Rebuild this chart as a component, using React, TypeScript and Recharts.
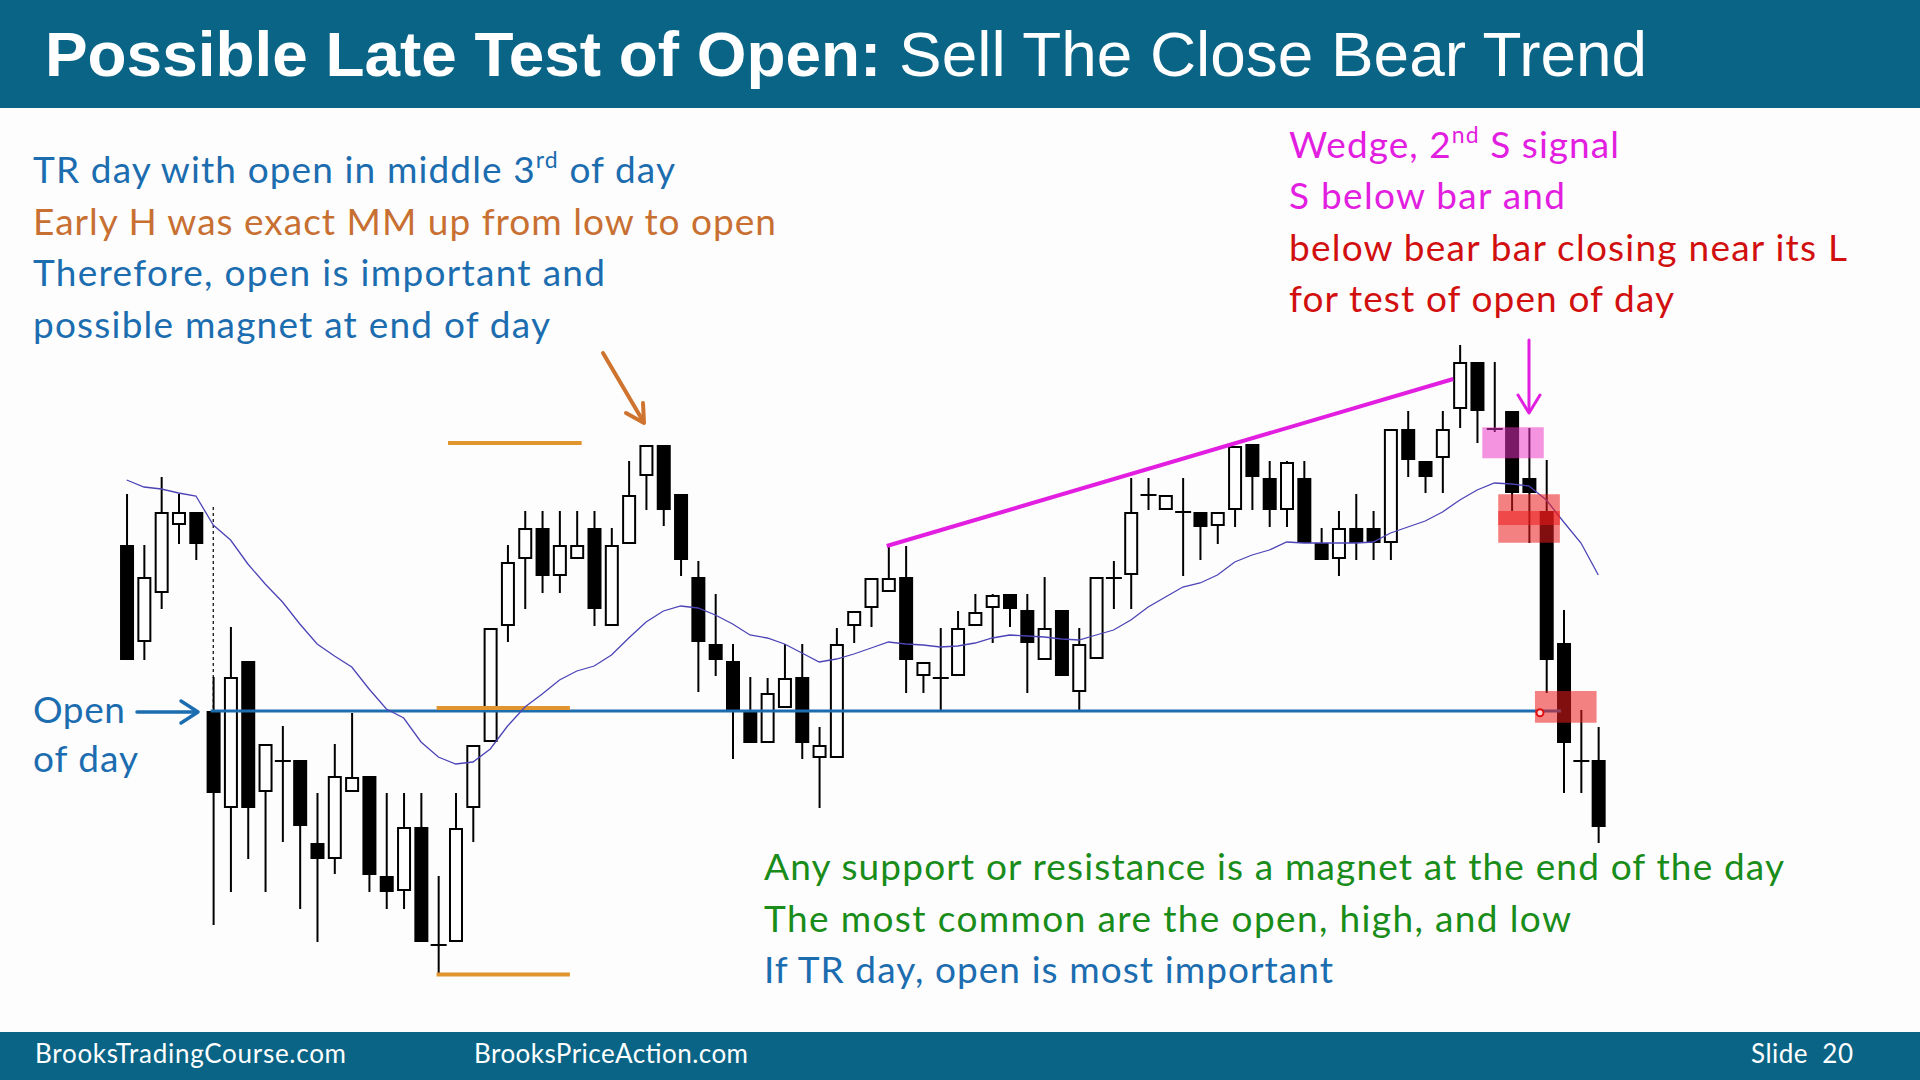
import React from "react";
import {
  ComposedChart,
  Bar,
  Line,
  XAxis,
  YAxis,
  ReferenceLine,
  ReferenceArea,
  ReferenceDot,
} from "recharts";

// price units (bigger = higher), one bar per index
const opens = [
  455, 358, 407, 475, 488, 289, 192, 339, 208, 239, 240, 157, 141, 208, 224,
  124, 109, 173, 55, 58, 192, 258, 374, 441, 472, 424, 441, 472, 374, 456,
  524, 555, 506, 423, 356, 339, 289, 257, 292, 323, 242, 242, 374, 392, 408,
  423, 324, 322, 324, 374, 392, 406, 390, 340, 390, 308, 341, 422, 425, 505,
  490, 488, 488, 474, 490, 556, 522, 490, 522, 457, 441, 472, 472, 457, 571,
  539, 542, 591, 638, 571, 589, 522, 489, 357, 239, 240,
];
const highs = [
  506, 455, 523, 506, 488, 323, 373, 339, 256, 274, 240, 207, 256, 287, 224,
  207, 207, 207, 124, 207, 255, 372, 455, 489, 489, 489, 489, 489, 472, 539,
  555, 555, 506, 439, 406, 356, 323, 322, 356, 356, 273, 372, 389, 422, 454,
  454, 338, 372, 389, 406, 406, 406, 406, 423, 390, 372, 423, 439, 522, 522,
  505, 522, 488, 488, 554, 556, 539, 539, 539, 472, 489, 506, 489, 571, 589,
  539, 589, 655, 638, 638, 589, 572, 540, 390, 290, 273,
];
const lows = [
  340, 340, 391, 456, 440, 75, 108, 141, 108, 158, 91, 58, 126, 208, 108,
  91, 91, 58, 26, 58, 158, 258, 358, 391, 407, 407, 441, 374, 374, 456,
  490, 474, 424, 308, 324, 241, 257, 257, 292, 241, 192, 242, 357, 373, 408,
  307, 307, 290, 324, 374, 357, 373, 307, 340, 324, 290, 341, 391, 391, 490,
  490, 424, 440, 456, 473, 490, 473, 473, 457, 440, 424, 440, 440, 440, 523,
  507, 507, 572, 557, 568, 489, 457, 307, 207, 207, 157,
];
const closes = [
  340, 423, 488, 488, 456, 207, 323, 192, 256, 239, 174, 141, 224, 223, 125,
  108, 173, 58, 55, 172, 255, 372, 438, 472, 424, 455, 455, 391, 455, 505,
  555, 490, 440, 358, 340, 289, 257, 307, 322, 257, 255, 356, 389, 422, 422,
  340, 338, 322, 372, 388, 405, 391, 357, 372, 324, 356, 423, 422, 488, 505,
  505, 488, 473, 488, 554, 523, 490, 538, 457, 440, 472, 457, 457, 571, 540,
  523, 571, 638, 589, 571, 507, 507, 340, 257, 239, 173,
];
// moving average as drawn on the slide
const ema = [
  520, 513, 511, 507, 504, 475, 460, 436, 416, 398, 376, 356, 344, 333, 311,
  291, 282, 258, 243, 236, 238, 251, 274, 293, 306, 320, 329, 334, 345, 362,
  378, 389, 394, 392, 385, 376, 365, 362, 356, 347, 338, 341, 346, 352, 358,
  356, 355, 353, 354, 357, 362, 365, 364, 363, 361, 360, 365, 370, 380, 393,
  403, 413, 417, 425, 438, 445, 450, 458, 457, 457, 457, 457, 458, 467, 473,
  479, 488, 500, 510, 517, 516, 514, 500, 478, 457, 425,
];

const openOfDay = 289;
const firstBarOfDay = 5;

const data = opens.map((o, i) => ({
  i,
  open: o,
  high: highs[i],
  low: lows[i],
  close: closes[i],
  ema: ema[i],
  range: [lows[i], highs[i]],
}));

const BLUE = "#1c6db0";
const ORANGE = "#e0952e";
const MAGENTA = "#e21ee0";

function Candle(props: any) {
  const { x, y, width, height, payload } = props;
  if (!payload) return null;
  const { open, close, high, low } = payload;
  const top = Math.min(y, y + height);
  const k = Math.abs(height) / (high - low);
  const py = (v: number) => top + (high - v) * k;
  const cx = x + width / 2;
  const bTop = py(Math.max(open, close));
  const bBot = py(Math.min(open, close));
  const wick = (
    <line x1={cx} x2={cx} y1={py(high)} y2={py(low)} stroke="#000" strokeWidth={2} />
  );
  if (open === close) {
    return (
      <g>
        {wick}
        <line x1={cx - 8} x2={cx + 8} y1={bTop} y2={bTop} stroke="#000" strokeWidth={2} />
      </g>
    );
  }
  if (close < open) {
    return (
      <g>
        {wick}
        <rect x={x} y={bTop} width={width} height={bBot - bTop} fill="#000" />
      </g>
    );
  }
  return (
    <g>
      {wick}
      <rect
        x={x + 1}
        y={bTop + 1}
        width={width - 2}
        height={Math.max(bBot - bTop - 2, 1)}
        fill="#fff"
        stroke="#000"
        strokeWidth={2}
      />
    </g>
  );
}

const txt = { fontFamily: "Lato, 'Open Sans', sans-serif", fontSize: 37 };

export default function App() {
  return (
    <div style={{ position: "fixed", left: 0, top: 0, width: 1920, height: 1080, background: "#fdfdfd" }}>
      <ComposedChart
        width={1920}
        height={1080}
        data={data}
        margin={{ top: 0, right: 0, bottom: 0, left: 0 }}
      >
        <XAxis dataKey="i" type="number" domain={[-7.318, 103.581]} hide allowDataOverflow />
        <YAxis type="number" domain={[-80, 1000]} hide allowDataOverflow />
        <ReferenceLine
          segment={[{ x: 4.85, y: openOfDay }, { x: 82.85, y: openOfDay }]}
          stroke={BLUE}
          strokeWidth={3}
        />
        <ReferenceLine
          segment={[{ x: firstBarOfDay, y: 493 }, { x: firstBarOfDay, y: openOfDay }]}
          stroke="#000"
          strokeWidth={1.2}
          strokeDasharray="3 3"
        />
        <ReferenceLine segment={[{ x: 18.56, y: 557 }, { x: 26.28, y: 557 }]} stroke={ORANGE} strokeWidth={4} />
        <ReferenceLine segment={[{ x: 17.9, y: 292 }, { x: 25.6, y: 292 }]} stroke={ORANGE} strokeWidth={4} />
        <ReferenceLine segment={[{ x: 17.9, y: 25.5 }, { x: 25.6, y: 25.5 }]} stroke={ORANGE} strokeWidth={4} />
        <Line
          dataKey="ema"
          type="linear"
          dot={false}
          activeDot={false}
          stroke="#4c44b6"
          strokeWidth={1.3}
          strokeLinecap="butt"
          isAnimationActive={false}
        />
        <Bar
          dataKey="range"
          barSize={14}
          shape={(p: any) => <Candle {...p} />}
          isAnimationActive={false}
        />
        <ReferenceLine
          segment={[{ x: 43.9, y: 454 }, { x: 76.62, y: 621 }]}
          stroke={MAGENTA}
          strokeWidth={4}
          zIndex={1500}
        />
        <ReferenceArea x1={78.3} x2={81.85} y1={541.7} y2={572.7} fill="#eb32c4" fillOpacity={0.52} stroke="none" zIndex={1500} />
        <ReferenceArea x1={79.22} x2={82.78} y1={475} y2={505.7} fill="#ec1c1c" fillOpacity={0.55} stroke="none" zIndex={1500} />
        <ReferenceArea x1={79.22} x2={82.78} y1={457.3} y2={489} fill="#ec1c1c" fillOpacity={0.55} stroke="none" zIndex={1500} />
        <ReferenceArea x1={81.34} x2={84.9} y1={277.3} y2={309} fill="#ec1c1c" fillOpacity={0.55} stroke="none" zIndex={1500} />
        <ReferenceDot x={81.63} y={287.3} r={3.5} fill="#fbd0d0" stroke="#e01010" strokeWidth={2} zIndex={1600} />
      </ComposedChart>

      <svg
        width={1920}
        height={1080}
        style={{ position: "absolute", left: 0, top: 0, pointerEvents: "none" }}
      >
        <rect x={0} y={0} width={1920} height={108} fill="#0a6486" />
        <text
          x={45}
          y={76}
          fill="#fff"
          fontFamily="'Liberation Sans', Arial, sans-serif"
          fontSize={63}
          textLength={1602}
          lengthAdjust="spacingAndGlyphs"
        >
          <tspan fontWeight="bold">Possible Late Test of Open:</tspan>
          <tspan> Sell The Close Bear Trend</tspan>
        </text>

        <g style={txt}>
          <text x={33} y={183} fill={BLUE} textLength={642} lengthAdjust="spacing">
            TR day with open in middle 3<tspan fontSize={23} dy={-15}>rd</tspan>
            <tspan dy={15}> of day</tspan>
          </text>
          <text x={33} y={235} fill="#c87032" textLength={743} lengthAdjust="spacing">
            Early H was exact MM up from low to open
          </text>
          <text x={33} y={286} fill={BLUE} textLength={572} lengthAdjust="spacing">
            Therefore, open is important and
          </text>
          <text x={33} y={338} fill={BLUE} textLength={517} lengthAdjust="spacing">
            possible magnet at end of day
          </text>

          <text x={1289} y={158} fill={MAGENTA} textLength={330} lengthAdjust="spacing">
            Wedge, 2<tspan fontSize={23} dy={-15}>nd</tspan>
            <tspan dy={15}> S signal</tspan>
          </text>
          <text x={1289} y={209} fill={MAGENTA} textLength={276} lengthAdjust="spacing">
            S below bar and
          </text>
          <text x={1289} y={261} fill="#d20f0f" textLength={558} lengthAdjust="spacing">
            below bear bar closing near its L
          </text>
          <text x={1289} y={312} fill="#d20f0f" textLength={385} lengthAdjust="spacing">
            for test of open of day
          </text>

          <text x={764} y={880} fill="#198c19" textLength={1020} lengthAdjust="spacing">
            Any support or resistance is a magnet at the end of the day
          </text>
          <text x={764} y={932} fill="#198c19" textLength={807} lengthAdjust="spacing">
            The most common are the open, high, and low
          </text>
          <text x={764} y={983} fill={BLUE} textLength={569} lengthAdjust="spacing">
            If TR day, open is most important
          </text>

          <text x={33} y={723} fill={BLUE} textLength={92} lengthAdjust="spacing">
            Open
          </text>
          <text x={33} y={772} fill={BLUE} textLength={105} lengthAdjust="spacing">
            of day
          </text>
        </g>

        {/* arrows */}
        <g fill="none" strokeLinecap="round" strokeLinejoin="round">
          <line x1={137} y1={712} x2={197} y2={712} stroke={BLUE} strokeWidth={3.5} />
          <polyline points="181,701 198,712 181,723" stroke={BLUE} strokeWidth={3.5} />
          <line x1={603} y1={353} x2={643} y2={421} stroke="#cf742f" strokeWidth={4} />
          <polyline points="626,413 644,423 643,403" stroke="#cf742f" strokeWidth={4} />
          <line x1={1529} y1={340} x2={1529} y2={411} stroke={MAGENTA} strokeWidth={3} />
          <polyline points="1518,395 1529,413 1540,395" stroke={MAGENTA} strokeWidth={3} />
        </g>

        <rect x={0} y={1032} width={1920} height={48} fill="#0a6486" />
        <g fill="#fff" fontFamily="Lato, 'Open Sans', sans-serif" fontSize={26}>
          <text x={35} y={1063} textLength={311} lengthAdjust="spacing">
            BrooksTradingCourse.com
          </text>
          <text x={474} y={1063} textLength={274} lengthAdjust="spacing">
            BrooksPriceAction.com
          </text>
          <text x={1751} y={1063} textLength={102} lengthAdjust="spacing">
            {"Slide\u00a0\u00a020"}
          </text>
        </g>
      </svg>
    </div>
  );
}
